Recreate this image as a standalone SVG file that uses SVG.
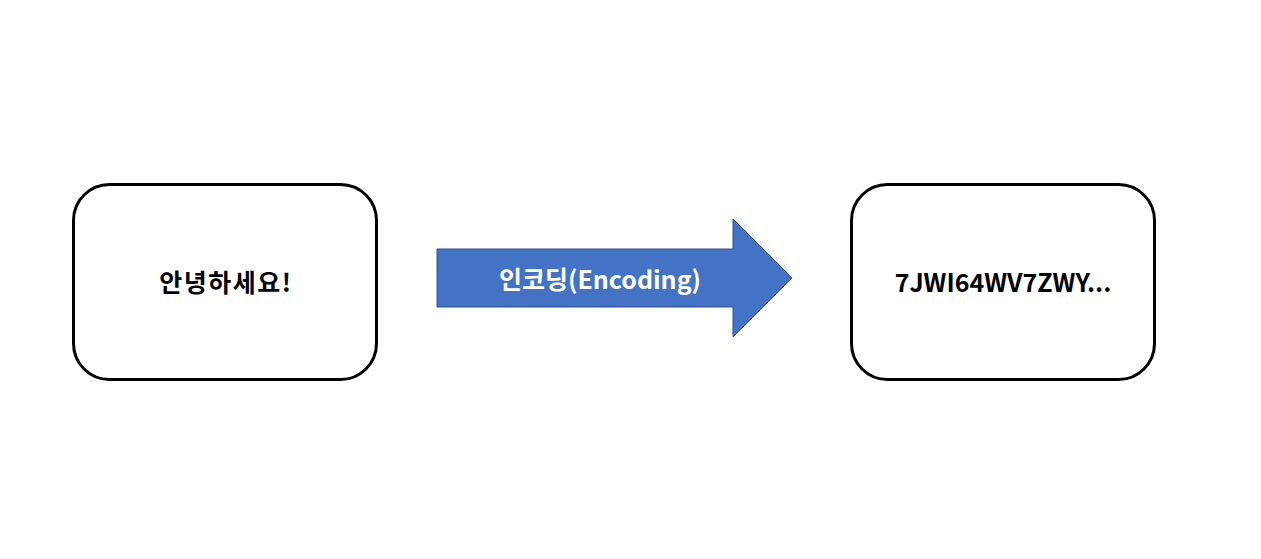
<svg xmlns="http://www.w3.org/2000/svg" width="1261" height="559" viewBox="0 0 1261 559">
<style>
.box{fill:#fff;stroke:#000;stroke-width:3}
.t{font-family:"Noto Sans CJK KR","Noto Sans",sans-serif;font-weight:bold;font-size:25px;text-anchor:middle}
</style>
<rect width="1261" height="559" fill="#fff"/>
<g id="source">
<rect class="box" x="73.5" y="184.5" width="303" height="195" rx="36"/>
<text class="t" x="226" y="292" fill="#000" letter-spacing="1.5">안녕하세요!</text>
</g>
<g id="connectors">
<g id="encoding-arrow">
<polygon points="437,249 733,249 733,219 792,278 733,337 733,307 437,307" fill="#4472C4" stroke="#2F528F" stroke-width="1"/>
<text class="t" x="600" y="289" fill="#fff">인코딩(Encoding)</text>
</g>
</g>
<g id="result">
<rect class="box" x="851.5" y="184.5" width="303" height="195" rx="36"/>
<text class="t" x="1003" y="292" fill="#000">7JWI64WV7ZWY...</text>
</g>
</svg>
